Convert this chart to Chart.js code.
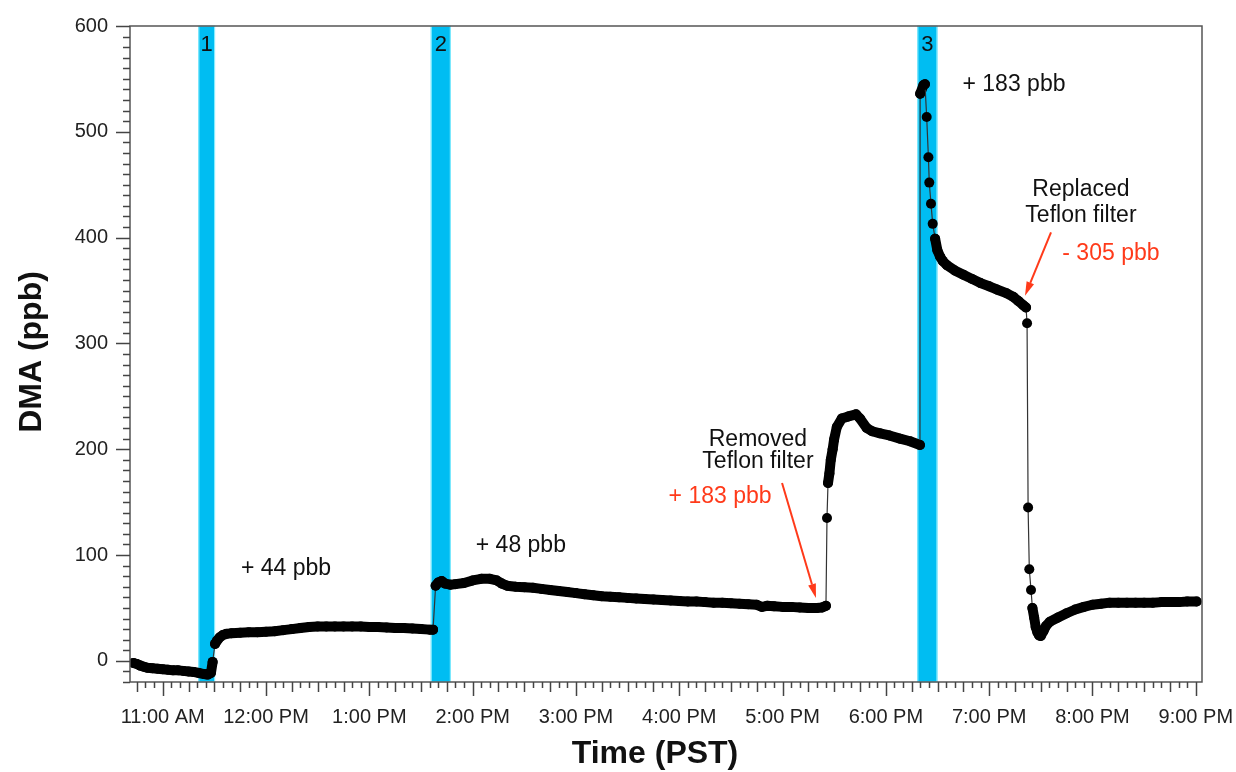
<!DOCTYPE html>
<html>
<head>
<meta charset="utf-8">
<script src="https://cdn.jsdelivr.net/npm/chart.js@4.4.0/dist/chart.umd.min.js"></script>
<style>
html, body { margin: 0; padding: 0; background: #fff; }
</style>
</head>
<body>
<canvas id="dmaChart" width="1236" height="772"></canvas>
<script>
// time in minutes after midnight (PST), DMA in ppb
var times = [
  643, 645, 647, 649, 651, 654, 657, 660, 663, 666, 669, 672, 675, 678, 681, 684, 686, 688, 689, 690.4,
  691.5, 693, 695, 697,
  700, 705, 710, 715, 720, 725, 730, 735, 740, 745, 750, 755, 760, 765, 770, 775, 780, 785, 790, 795,
  800, 805, 810, 815, 817,
  818.5, 820, 822, 824, 827, 830, 835, 840, 845, 850, 854, 857, 860, 865, 870, 875, 880, 885, 890, 895,
  900, 905, 910, 915, 920, 925, 930, 935, 940, 945, 950, 955, 960, 965, 970, 975, 980, 985, 990, 995,
  1000, 1005, 1008, 1011, 1015, 1020, 1025, 1030, 1035, 1040, 1043, 1045.2,
  1045.8, 1046.4, 1047.2, 1048, 1049.1, 1049.9, 1051.5, 1054.4, 1058.2, 1062.7, 1065, 1068.9, 1072,
  1076.6, 1082, 1088.2, 1094, 1099.8,
  1099.9, 1101.8, 1102.7, 1103.7, 1104.7, 1105.2, 1106.2, 1107.2, 1108.6, 1109.9, 1111.5, 1113, 1115.4,
  1120, 1125, 1130, 1135, 1140, 1144.4, 1150, 1154, 1157, 1159.8, 1161.4,
  1162, 1162.6, 1163.3, 1164.3, 1165.1, 1166.1, 1167, 1168, 1169, 1170, 1171.5, 1173, 1175.3, 1180,
  1185, 1190, 1195, 1200, 1205, 1210, 1215, 1220, 1225, 1230, 1235, 1240, 1245, 1250, 1255, 1260.5
];
var dma = [
  -2, -3, -4.5, -5.5, -6.5, -7, -7.5, -8, -8.5, -9, -9, -9.5, -10, -10.5, -11.5, -12.5, -13, -11.5, -1, 16,
  19, 22, 24.5, 25.5,
  26, 26.5, 27, 27, 27.5, 28, 29, 30, 31, 32, 32.5, 32.5, 32.5, 32.5, 32.5, 32.5, 32, 32, 31.5, 31,
  31, 30.5, 30, 29.5, 29.5,
  71, 74, 75.5, 73, 72, 72.5, 73.5, 76, 77.5, 77.5, 76, 73, 71, 70, 69.5, 69, 68, 67, 66, 65,
  64, 63, 62, 61, 60.5, 60, 59.5, 59, 58.5, 58, 57.5, 57, 56.5, 56, 56, 55.5, 55, 55, 54.5, 54,
  53.5, 53, 51, 52, 51.5, 51, 51, 50.5, 50, 50, 50.5, 52,
  135, 168, 177, 190, 200, 209, 221, 229, 231, 233, 229, 220, 217,
  215, 213, 210, 207.5, 204,
  536, 544, 545, 514, 476, 452, 432, 413, 399, 388, 382, 378, 374,
  369, 365, 361, 357, 354, 351, 347.5, 344, 340, 336, 334,
  319, 145, 86.5, 67, 50, 41, 32, 27, 24, 23.5, 28, 33, 37, 41,
  45, 48.5, 51, 53, 54, 55, 55, 55, 55, 55, 55, 55.5, 55.5, 55.5, 56, 56
];

// injection periods (blue bars)
var bandStart = [680.7, 815.7, 1098.3];
var bandEnd = [690.4, 827.3, 1109.9];
var bandNames = ['1', '2', '3'];

var hourTicks = [660, 720, 780, 840, 900, 960, 1020, 1080, 1140, 1200, 1260];
var yTicks = [0, 100, 200, 300, 400, 500, 600];

// notes, placed in data units
var notes = [
  { text: '+ 44 pbb', x: 731.6, y: 81, color: '#111' },
  { text: '+ 48 pbb', x: 868, y: 103, color: '#111' },
  { text: '+ 183 pbb', x: 1154.4, y: 538.6, color: '#111' },
  { text: 'Removed', x: 1005.7, y: 203, color: '#111' },
  { text: 'Teflon filter', x: 1005.7, y: 182, color: '#111' },
  { text: '+ 183 pbb', x: 983.7, y: 149, color: '#ff3a1a' },
  { text: 'Replaced', x: 1193.3, y: 439, color: '#111' },
  { text: 'Teflon filter', x: 1193.3, y: 415, color: '#111' },
  { text: '- 305 pbb', x: 1210.7, y: 378.4, color: '#ff3a1a' }
];
var arrows = [
  { x0: 1019.7, y0: 168, x1: 1039.4, y1: 59.5 },
  { x0: 1175.9, y0: 405, x1: 1160.8, y1: 345 }
];

function fmtTime(v) {
  var h = Math.floor(v / 60);
  var ampm = h >= 12 ? 'PM' : 'AM';
  var h12 = h % 12 === 0 ? 12 : h % 12;
  return h12 + ':00 ' + ampm;
}

var overlay = {
  id: 'overlay',
  beforeDatasetsDraw: function (chart) {
    var ctx = chart.ctx, a = chart.chartArea, x = chart.scales.x;
    ctx.save();
    for (var i = 0; i < bandStart.length; i++) {
      var x0 = x.getPixelForValue(bandStart[i]);
      var x1 = x.getPixelForValue(bandEnd[i]);
      ctx.fillStyle = '#00bdf2';
      ctx.fillRect(x0, a.top, x1 - x0, a.bottom - a.top);
      ctx.strokeStyle = '#8ff0ff';
      ctx.lineWidth = 1;
      ctx.strokeRect(x0 + 0.5, a.top, x1 - x0 - 1, a.bottom - a.top);
    }
    ctx.restore();
  },
  afterDatasetsDraw: function (chart) {
    var ctx = chart.ctx, a = chart.chartArea, x = chart.scales.x, y = chart.scales.y;
    ctx.save();

    // band numbers
    ctx.font = '22px "Liberation Sans", Arial, sans-serif';
    ctx.fillStyle = '#111';
    ctx.textAlign = 'center';
    ctx.textBaseline = 'middle';
    for (var i = 0; i < bandNames.length; i++) {
      ctx.fillText(bandNames[i], x.getPixelForValue((bandStart[i] + bandEnd[i]) / 2), a.top + 19);
    }

    // text notes
    ctx.font = '23px "Liberation Sans", Arial, sans-serif';
    ctx.textBaseline = 'alphabetic';
    notes.forEach(function (n) {
      ctx.fillStyle = n.color;
      ctx.fillText(n.text, x.getPixelForValue(n.x), y.getPixelForValue(n.y));
    });

    // red arrows
    ctx.strokeStyle = '#ff3a1a';
    ctx.fillStyle = '#ff3a1a';
    ctx.lineWidth = 2;
    arrows.forEach(function (ar) {
      var px0 = x.getPixelForValue(ar.x0), py0 = y.getPixelForValue(ar.y0);
      var px1 = x.getPixelForValue(ar.x1), py1 = y.getPixelForValue(ar.y1);
      var ang = Math.atan2(py1 - py0, px1 - px0);
      var hl = 14, hw = 4;
      var bx = px1 - hl * Math.cos(ang), by = py1 - hl * Math.sin(ang);
      ctx.beginPath();
      ctx.moveTo(px0, py0);
      ctx.lineTo(bx, by);
      ctx.stroke();
      ctx.beginPath();
      ctx.moveTo(px1, py1);
      ctx.lineTo(bx + hw * Math.sin(ang), by - hw * Math.cos(ang));
      ctx.lineTo(bx - hw * Math.sin(ang), by + hw * Math.cos(ang));
      ctx.closePath();
      ctx.fill();
    });

    // frame
    ctx.strokeStyle = '#555';
    ctx.lineWidth = 1.5;
    ctx.strokeRect(a.left, a.top, a.right - a.left, a.bottom - a.top);

    // tick marks
    ctx.strokeStyle = '#444';
    ctx.lineWidth = 1.5;
    ctx.beginPath();
    for (var m = Math.ceil(x.min / 5) * 5; m <= x.max; m += 5) {
      var len = m % 60 === 0 ? 14 : (m % 15 === 0 ? 10 : 6);
      var px = Math.round(x.getPixelForValue(m)) + 0.5;
      ctx.moveTo(px, a.bottom);
      ctx.lineTo(px, a.bottom + len);
    }
    for (var v = Math.ceil(y.min / 10) * 10; v <= y.max; v += 10) {
      var ylen = v % 100 === 0 ? 14 : 7;
      var py = Math.round(y.getPixelForValue(v)) + 0.5;
      ctx.moveTo(a.left, py);
      ctx.lineTo(a.left - ylen, py);
    }
    ctx.stroke();

    // axis titles
    ctx.fillStyle = '#111';
    ctx.font = 'bold 32px "Liberation Sans", Arial, sans-serif';
    ctx.textAlign = 'center';
    ctx.textBaseline = 'middle';
    ctx.fillText('Time (PST)', 655, 754);
    ctx.translate(32, 352);
    ctx.rotate(-Math.PI / 2);
    ctx.fillText('DMA (ppb)', 0, 0);

    ctx.restore();
  }
};

var points = times.map(function (t, i) { return { x: t, y: dma[i] }; });

// big vertical jumps get a thin line, the rest a thick trace like the dense dots
function isJump(c) { return Math.abs(c.p1.y - c.p0.y) > 14; }

var myChart = new Chart(document.getElementById('dmaChart'), {
  type: 'line',
  data: {
    datasets: [{
      label: 'DMA',
      data: points,
      borderColor: '#222',
      borderWidth: 1,
      borderCapStyle: 'round',
      borderJoinStyle: 'round',
      segment: {
        borderWidth: function (c) { return isJump(c) ? 1.2 : 10; },
        borderColor: function (c) { return isJump(c) ? '#333' : '#000'; }
      },
      pointRadius: 5,
      pointBorderWidth: 0,
      pointBackgroundColor: '#000',
      tension: 0
    }]
  },
  options: {
    responsive: false,
    animation: false,
    devicePixelRatio: 1,
    layout: { padding: { left: 0, right: 34, top: 26, bottom: 0 } },
    plugins: {
      legend: { display: false },
      tooltip: { enabled: false }
    },
    scales: {
      x: {
        type: 'linear',
        min: 641,
        max: 1263.6,
        afterFit: function (s) {
          s.height = 90;
          s.paddingLeft = 0;
          s.paddingRight = 0;
        },
        afterBuildTicks: function (s) {
          s.ticks = hourTicks.map(function (v) { return { value: v }; });
        },
        grid: { display: false, drawTicks: false },
        border: { display: false },
        ticks: {
          autoSkip: false,
          maxRotation: 0,
          padding: 23,
          color: '#222',
          font: { family: '"Liberation Sans", Arial, sans-serif', size: 20 },
          callback: function (v) { return fmtTime(v); }
        }
      },
      y: {
        min: -20,
        max: 600,
        afterFit: function (s) {
          s.width = 130;
          s.paddingTop = 0;
          s.paddingBottom = 0;
        },
        afterBuildTicks: function (s) {
          s.ticks = yTicks.map(function (v) { return { value: v }; });
        },
        grid: { display: false, drawTicks: false },
        border: { display: false },
        ticks: {
          padding: 22,
          color: '#222',
          font: { family: '"Liberation Sans", Arial, sans-serif', size: 20 }
        }
      }
    }
  },
  plugins: [overlay]
});
</script>
</body>
</html>
